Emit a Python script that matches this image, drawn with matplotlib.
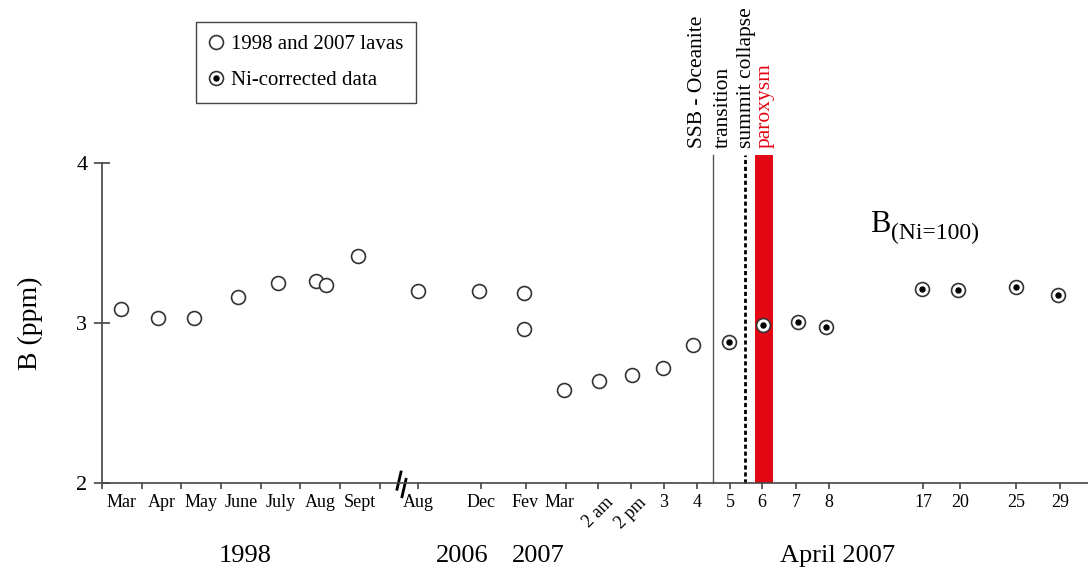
import matplotlib
matplotlib.use('Agg')
import matplotlib.pyplot as plt
import matplotlib.transforms as mtransforms

plt.rcParams['font.family'] = ['Liberation Serif', 'DejaVu Serif']

# broken time axis, positions in arbitrary slot units
tick_pos = [0, 4.0, 7.9, 11.9, 15.9, 19.8, 23.8, 27.8, 31.6, 37.9, 42.4, 46.4,
            49.6, 52.9, 56.2, 59.5, 62.8, 66.0, 69.4, 72.7, 82.1, 85.8, 91.4, 95.8]
label_pos = [2.0, 6.0, 9.9, 13.9, 17.9, 21.8, 25.8, 31.6, 37.9, 42.3, 45.8, 49.6,
             52.9, 56.2, 59.5, 62.8, 66.0, 69.4, 72.7, 82.1, 85.8, 91.4, 95.8]
tick_labels = ['Mar', 'Apr', 'May', 'June', 'July', 'Aug', 'Sept', 'Aug', 'Dec', 'Fev',
               'Mar', '2 am', '2 pm', '3', '4', '5', '6', '7', '8', '17', '20', '25', '29']
years = ['1998', '2006', '2007', 'April 2007']
year_pos = [14.3, 36.0, 43.6, 73.6]

# 1998 and 2007 lavas
lava_x = [1.9, 5.6, 9.2, 13.6, 17.6, 21.4, 22.4, 25.6,
          31.6, 37.7, 42.2, 42.2, 46.2, 49.7, 53.0, 56.1, 59.1]
lava_b = [3.09, 3.03, 3.03, 3.16, 3.25, 3.265, 3.235, 3.42,
          3.20, 3.20, 3.185, 2.96, 2.58, 2.64, 2.675, 2.72, 2.865]

# Ni-corrected data
ni_x = [62.7, 66.1, 69.6, 72.4, 82.0, 85.6, 91.4, 95.6]
ni_b = [2.88, 2.985, 3.005, 2.975, 3.215, 3.205, 3.225, 3.175]

# events
transition_x = 61.1
collapse_x = 64.3
paroxysm_span = (65.3, 67.1)

fig = plt.figure(figsize=(10.88, 5.74), dpi=100)
ax = fig.add_axes([102 / 1088, 1 - 483 / 574, 986 / 1088, 320 / 574])

ax.set_xlim(0, 98.6)
ax.set_ylim(2, 4)

for s in ['top', 'right']:
    ax.spines[s].set_visible(False)
for s in ['left', 'bottom']:
    ax.spines[s].set_color('#444444')
    ax.spines[s].set_linewidth(1.2)

ax.set_yticks([2, 3, 4])
ax.set_yticklabels(['2', '3', '4'])
ax.tick_params(axis='y', direction='inout', length=11, width=1.2, color='#444444',
               labelsize=16, pad=5)

ax.xaxis.remove_overlapping_locs = False
ax.set_xticks(tick_pos)
ax.set_xticklabels([])
ax.tick_params(axis='x', which='major', direction='out', length=4.5, width=1.2, color='#444444')
ax.set_xticks(label_pos, minor=True)
ax.set_xticklabels(tick_labels, minor=True)
ax.tick_params(axis='x', which='minor', length=0, labelsize=13, pad=8)
for t in ax.get_xticklabels(minor=True):
    if t.get_text() in ('2 am', '2 pm'):
        t.set_rotation(45)

ax.set_ylabel('B (ppm)', fontsize=20, labelpad=24)

trans = mtransforms.blended_transform_factory(ax.transData, ax.transAxes)
for name, xp in zip(years, year_pos):
    ax.text(xp, -0.228, name, transform=trans, fontsize=19, ha='center', va='center')

# axis break mark
ax.plot([29.9, 29.5], [2.069, 1.961], color='black', lw=2, clip_on=False)
ax.plot([30.4, 30.0], [2.023, 1.914], color='black', lw=2, clip_on=False)

# event markers
ax.axvline(transition_x, ymin=0, ymax=1.025, color='#555555', lw=1, clip_on=False, zorder=1)
ax.axvline(collapse_x, ymin=0, ymax=1.025, color='black', lw=2, ls=(0, (1.5, 1)),
           clip_on=False, zorder=1)
ax.axvspan(paroxysm_span[0], paroxysm_span[1], ymin=0, ymax=1.025, color='#e30613',
           lw=0, clip_on=False, zorder=1)

ax.text(59.5, 4.094, 'SSB - Oceanite', rotation=90, fontsize=15.5, ha='center', va='bottom')
ax.text(62.1, 4.094, 'transition', rotation=90, fontsize=15.5, ha='center', va='bottom')
ax.text(64.5, 4.094, 'summit collapse', rotation=90, fontsize=15.5, ha='center', va='bottom')
ax.text(66.3, 4.094, 'paroxysm', rotation=90, fontsize=15.5, ha='center', va='bottom',
        color='#e30613')

ax.text(76.8, 3.571, 'B', fontsize=22, va='baseline', ha='left')
ax.text(78.9, 3.525, '(Ni=100)', fontsize=17, va='baseline', ha='left')

mk = dict(marker='o', ms=10, mfc='white', mec='#333333', mew=1.2, ls='none', zorder=3)
h_lava, = ax.plot(lava_x, lava_b, **mk)
h_ni, = ax.plot(ni_x, ni_b, **mk)
h_dot, = ax.plot(ni_x, ni_b, marker='o', ms=3.6, color='black', ls='none', zorder=4)

leg = ax.legend([h_lava, (h_ni, h_dot)], ['1998 and 2007 lavas', 'Ni-corrected data'],
                loc='upper left', bbox_to_anchor=(196 / 1088, 1 - 22 / 574),
                bbox_transform=fig.transFigure, borderaxespad=0, fontsize=15,
                fancybox=False, framealpha=1, edgecolor='#444444', handlelength=0.7,
                handletextpad=0.4, labelspacing=0.8, borderpad=0.6)
leg.get_frame().set_linewidth(1.0)

fig.savefig('out.png', dpi=100)
